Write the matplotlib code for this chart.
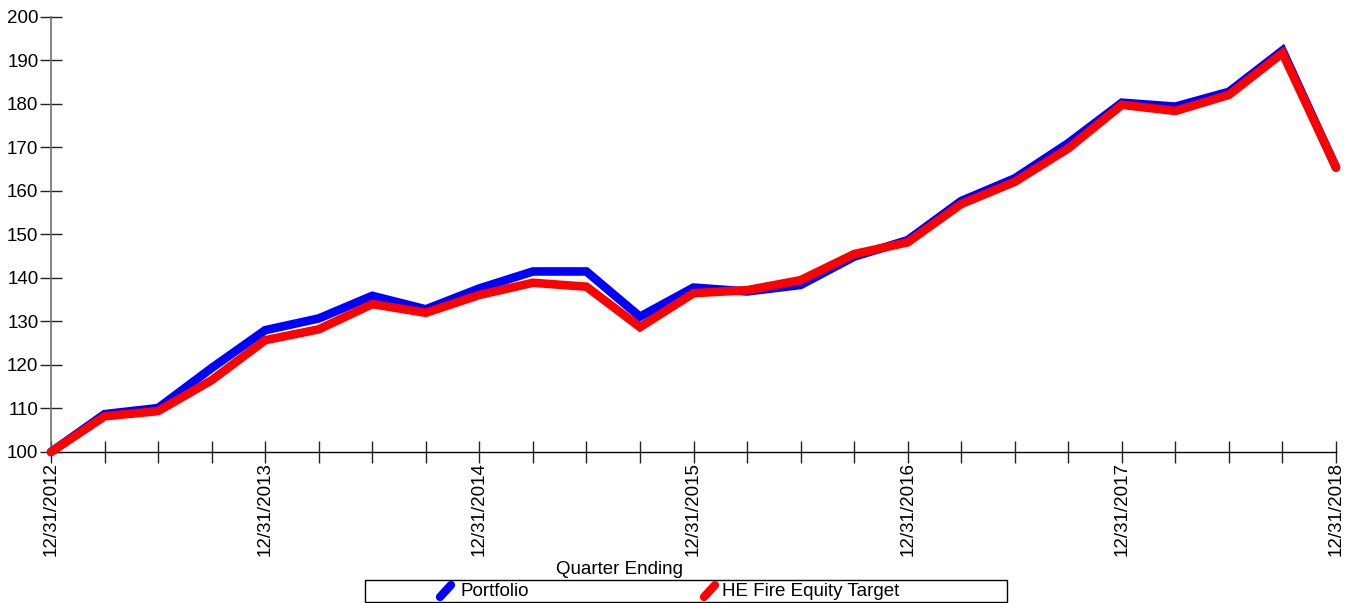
import matplotlib
matplotlib.use("Agg")
import matplotlib.pyplot as plt
from matplotlib.lines import Line2D
from matplotlib.patches import Rectangle

plt.rcParams['font.family'] = ['Liberation Sans', 'DejaVu Sans']

quarters = list(range(25))
year_labels = ["12/31/2012", "12/31/2013", "12/31/2014", "12/31/2015",
               "12/31/2016", "12/31/2017", "12/31/2018"]
portfolio = [100.0, 108.7, 110.1, 119.3, 128.0, 130.7, 135.9, 132.8, 137.6,
             141.5, 141.5, 131.1, 137.8, 136.9, 138.4, 144.9, 148.7, 157.7,
             162.9, 171.0, 180.3, 179.4, 182.8, 192.3, 165.4]
target = [100.0, 108.2, 109.4, 116.5, 125.7, 128.2, 134.0, 132.0, 136.1,
          138.9, 138.0, 128.7, 136.5, 137.2, 139.5, 145.5, 148.2, 157.0,
          162.1, 169.8, 179.8, 178.4, 182.1, 191.7, 165.4]
yticks = list(range(100, 201, 10))

FS = 13.5
W, H = 1354, 603
fig = plt.figure(figsize=(W / 100, H / 100), dpi=100)
ax = fig.add_axes([51 / W, 1 - 452 / H, (1336 - 51) / W, (452 - 17) / H])

ax.plot(quarters, portfolio, color='#0000ff', lw=6.2, solid_capstyle='round',
        solid_joinstyle='miter', zorder=3, clip_on=False)
ax.plot(quarters, target, color='#ff0000', lw=6.2, solid_capstyle='round',
        solid_joinstyle='miter', zorder=4, clip_on=False)

ax.set_xlim(0, 24)
ax.set_ylim(100, 200)
ax.set_yticks(yticks)
ax.set_yticklabels([str(v) for v in yticks], fontsize=FS)
ax.set_xticks(quarters)
ax.set_xticklabels([year_labels[i // 4] if i % 4 == 0 else "" for i in quarters],
                   rotation=90, fontsize=FS, va='top', ha='center')
ax.tick_params(axis='both', direction='inout', length=16, width=1, color='#222222', pad=1)
ax.tick_params(axis='x', pad=-1)

for s in ['top', 'right']:
    ax.spines[s].set_visible(False)
ax.spines['left'].set_color('#707070')
ax.spines['left'].set_linewidth(1.2)
ax.spines['bottom'].set_color('black')
ax.spines['bottom'].set_linewidth(1)

fig.text(620 / W, 1 - 569 / H, "Quarter Ending", fontsize=FS, ha='center', va='center')

# legend
fig.add_artist(Rectangle((365 / W, 1 - 602 / H), (1007 - 365) / W, (602 - 580) / H,
                         transform=fig.transFigure, facecolor='white',
                         edgecolor='black', lw=1))
for (hx, tx, col, lab) in [(440, 460, '#0000ff', 'Portfolio'),
                           (704, 722, '#ff0000', 'HE Fire Equity Target')]:
    fig.add_artist(Line2D([hx / W, (hx + 11) / W], [1 - 597 / H, 1 - 585 / H],
                          transform=fig.transFigure, color=col, lw=6,
                          solid_capstyle='round'))
    fig.text(tx / W, 1 - 591 / H, lab, fontsize=FS, ha='left', va='center')

fig.savefig("out.png", dpi=100)
